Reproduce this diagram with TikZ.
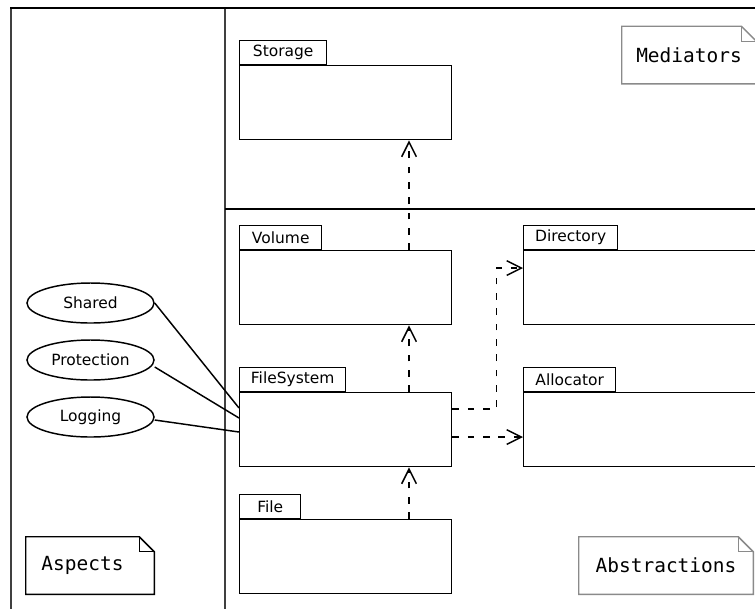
\documentclass[tikz,border=0pt]{standalone}
\usepackage{fontspec}
\setmainfont{DejaVu Sans}
\newfontfamily\notefont{DejaVu Sans Mono}
\usetikzlibrary{arrows.meta,shapes.geometric}
\definecolor{notegray}{HTML}{8A8A8A}
\definecolor{framegray}{HTML}{404040}
\tikzset{
  pkgbody/.style={draw, line width=1.1pt, anchor=north west, inner sep=0pt, minimum height=55.5pt},
  pkgtab/.style={draw, line width=1.1pt, anchor=south west, inner sep=0pt, minimum height=18pt, font=\fontsize{11.6pt}{13pt}\selectfont},
  aspect/.style={draw, ellipse, line width=1.1pt, inner sep=0pt, minimum width=95.25pt, minimum height=30pt, font=\fontsize{11.6pt}{13pt}\selectfont},
  notebox/.style={inner sep=0pt, minimum height=42.75pt, font=\notefont\fontsize{14.6pt}{16pt}\selectfont},
  dep/.style={line width=1.1pt, dash pattern=on 5pt off 6.5pt, -{Straight Barb[length=11pt,width=11pt,line width=1.1pt]}},
  assoc/.style={line width=1.1pt},
  frameline/.style={line width=1.5pt, color=framegray}
}
\begin{document}
\begin{tikzpicture}[x=0.75pt,y=-0.75pt]
\useasboundingbox (0,0) rectangle (755,608);
\clip (0,0) rectangle (755,608);
% frame
\draw[frameline] (11,8) -- (11,620);
\draw[frameline] (225,8) -- (225,620);
\draw[frameline, color=black] (225,209) -- (770,209);
\draw[line width=2pt] (10,8) -- (770,8);
% packages
\node[pkgbody, minimum width=159pt] (storage) at (239,65) {};
\node[pkgtab, minimum width=65.25pt] (storageT) at (storage.north west) {Storage};
\node[pkgbody, minimum width=159pt] (volume) at (239,250) {};
\node[pkgtab, minimum width=61.5pt] (volumeT) at (volume.north west) {Volume};
\node[pkgbody, minimum width=159pt] (fs) at (239,392) {};
\node[pkgtab, minimum width=79.5pt] (fsT) at (fs.north west) {FileSystem};
\node[pkgbody, minimum width=159pt] (file) at (239,519) {};
\node[pkgtab, minimum width=45.75pt] (fileT) at (file.north west) {File};
\node[pkgbody, minimum width=185pt] (dir) at (523,250) {};
\node[pkgtab, minimum width=70.5pt] (dirT) at (dir.north west) {Directory};
\node[pkgbody, minimum width=185pt] (alloc) at (523,392) {};
\node[pkgtab, minimum width=69pt] (allocT) at (alloc.north west) {Allocator};
% aspects
\node[aspect] (shared) at (90.5,303) {Shared};
\node[aspect] (prot) at (90.5,360) {Protection};
\node[aspect] (log) at (90.5,417) {Logging};
% notes
\node[notebox, minimum width=100.5pt] (med) at (689,55) {Mediators};
\node[notebox, minimum width=96pt] (asp) at (90,565.5) {Aspects\hspace*{11.25pt}};
\node[notebox, minimum width=130.5pt] (abs) at (666,565.5) {Abstractions};
\foreach \n/\c in {med/notegray, asp/black, abs/notegray}{
  \draw[line width=1.1pt, color=\c, line join=miter]
    (\n.north west) -- ([xshift=-11.25pt]\n.north east) -- ([yshift=-11.25pt]\n.north east)
    -- (\n.south east) -- (\n.south west) -- cycle;
  \draw[line width=1.1pt, color=\c]
    ([xshift=-11.25pt]\n.north east) |- ([yshift=-11.25pt]\n.north east);
}
% dependencies
\draw[dep] ([xshift=127.5pt]volume.north west) -- ([xshift=127.5pt]storage.south west);
\draw[dep] ([xshift=127.5pt]fs.north west) -- ([xshift=127.5pt]volume.south west);
\draw[dep] ([xshift=127.5pt]file.north west) -- ([xshift=127.5pt]fs.south west);
\draw[dep] ([yshift=-12.75pt]fs.north east) -- ++(44,0) |- ([yshift=-13.5pt]dir.north west);
\draw[dep] ([yshift=-33.75pt]fs.north east) -- ([yshift=-33.75pt]alloc.north west);
% aspect links
\draw[assoc] (shared.east) -- ([yshift=-12pt]fs.north west);
\draw[assoc] ([yshift=-5.25pt]prot.east) -- ([yshift=-19.5pt]fs.north west);
\draw[assoc] ([yshift=-2.25pt]log.east) -- ([yshift=-30pt]fs.north west);
\end{tikzpicture}
\end{document}
